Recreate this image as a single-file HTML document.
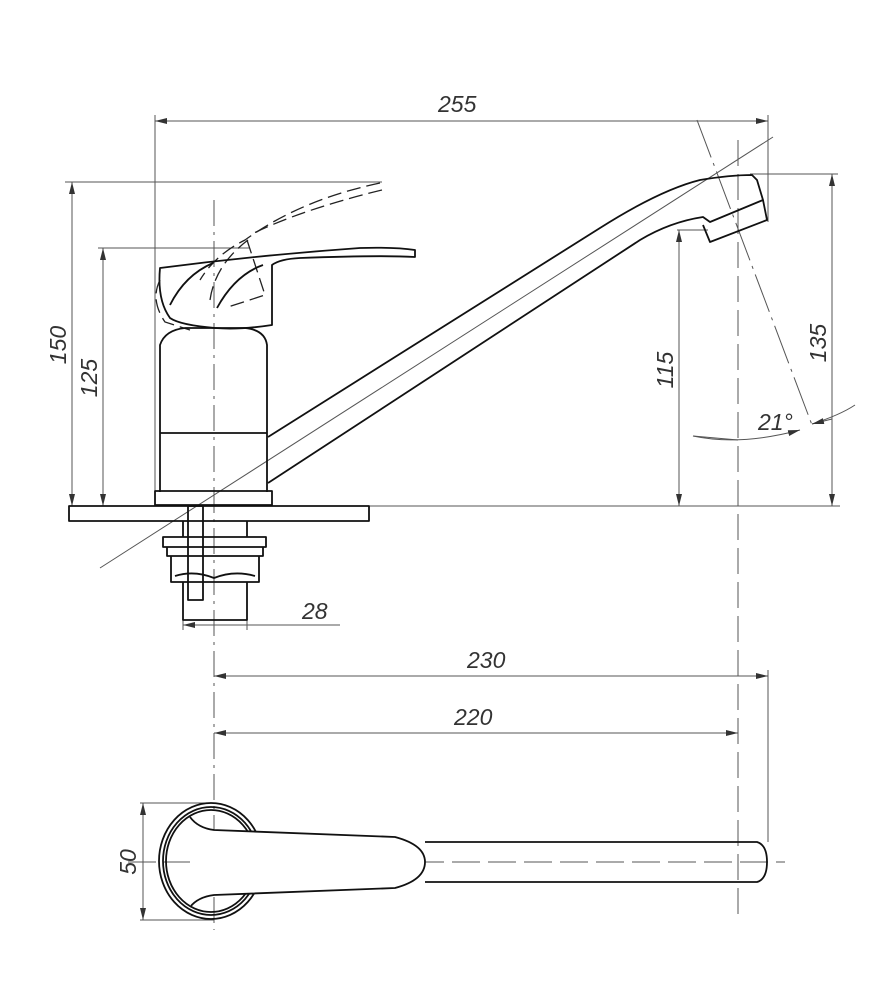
<!DOCTYPE html>
<html><head><meta charset="utf-8"><style>
html,body{margin:0;padding:0;background:#fff;}
svg{display:block;}
text{font-family:"Liberation Sans",sans-serif;font-style:italic;font-size:23px;fill:#333;}
</style></head><body>
<svg width="888" height="1000" viewBox="0 0 888 1000" xmlns="http://www.w3.org/2000/svg">
<defs>
<marker id="a" viewBox="0 0 12 6" refX="12" refY="3" markerWidth="12" markerHeight="6" orient="auto-start-reverse" markerUnits="userSpaceOnUse"><path d="M0,0L12,3L0,6z" fill="#333"/></marker>
</defs>
<g stroke="#555" stroke-width="1" fill="none">
<!-- extension lines -->
<line x1="155" y1="115" x2="155" y2="500"/>
<line x1="768" y1="115" x2="768" y2="222"/>
<line x1="65" y1="182" x2="382" y2="182"/>
<line x1="98" y1="248" x2="250" y2="248"/>
<line x1="369" y1="506" x2="840" y2="506"/>
<line x1="677" y1="230" x2="708" y2="230"/>
<line x1="750" y1="174" x2="838" y2="174"/>
<line x1="183" y1="600" x2="183" y2="630"/>
<line x1="247" y1="600" x2="247" y2="630"/>
<line x1="768" y1="670" x2="768" y2="842"/>
<line x1="140" y1="803" x2="214" y2="803"/>
<line x1="140" y1="920" x2="214" y2="920"/>
<!-- dimension lines -->
<line x1="155" y1="121" x2="768" y2="121" marker-start="url(#a)" marker-end="url(#a)"/>
<line x1="72" y1="182" x2="72" y2="506" marker-start="url(#a)" marker-end="url(#a)"/>
<line x1="103" y1="248" x2="103" y2="506" marker-start="url(#a)" marker-end="url(#a)"/>
<line x1="679" y1="230" x2="679" y2="506" marker-start="url(#a)" marker-end="url(#a)"/>
<line x1="832" y1="174" x2="832" y2="506" marker-start="url(#a)" marker-end="url(#a)"/>
<line x1="183" y1="625" x2="340" y2="625" marker-start="url(#a)"/>
<line x1="247" y1="625" x2="230" y2="625"/>
<line x1="214" y1="676" x2="768" y2="676" marker-start="url(#a)" marker-end="url(#a)"/>
<line x1="214" y1="733" x2="738" y2="733" marker-start="url(#a)" marker-end="url(#a)"/>
<line x1="143" y1="803" x2="143" y2="920" marker-start="url(#a)" marker-end="url(#a)"/>
<!-- angle -->
<path d="M693,436 Q740,446 800,430" marker-end="url(#a)"/>
<path d="M738,440 L693,436"/>
<path d="M855,405 Q840,415 812,424"/>
<line x1="832" y1="419" x2="812" y2="424" marker-end="url(#a)"/>
<!-- axis lines -->
<line x1="100" y1="568" x2="773" y2="137"/>
<line x1="697" y1="120" x2="812" y2="425" stroke-dasharray="40,6,3,6"/>
<line x1="214" y1="200" x2="214" y2="930" stroke-dasharray="26,6,3,6"/>
<line x1="738" y1="140" x2="738" y2="918" stroke-dasharray="26,8"/>
<line x1="128" y1="862" x2="785" y2="862" stroke-dasharray="28,8"/>
</g>
<!-- dashed handle -->
<g stroke="#222" stroke-width="1.3" fill="none" stroke-dasharray="14,6">
<path d="M380,183 Q300,200 245,240 Q215,255 200,280"/>
<path d="M382,190 Q300,210 250,235"/>
<path d="M160,280 Q150,300 165,322 L190,330"/>
<path d="M247,240 L265,295 L225,308"/>
<path d="M210,300 Q215,265 248,240"/>
</g>
<!-- main solid outline -->
<g stroke="#111" stroke-width="1.8" fill="none" stroke-linejoin="round">
<!-- handle -->
<path d="M160,268 Q260,255 360,248 Q395,247 415,250 L415,257 Q380,255 300,258 Q280,259 272,265 L272,325 Q240,330 215,328 Q180,325 170,318 Q157,300 160,268 Z"/>
<path d="M170,305 Q185,275 213,263"/>
<path d="M217,308 Q235,275 263,265"/>
<!-- body -->
<path d="M160,492 L160,345 Q165,330 185,328 L245,328 Q265,330 267,345 L267,492"/>
<line x1="160" y1="433" x2="267" y2="433"/>
<rect x="155" y="491" width="117" height="14"/>
<rect x="69" y="506" width="300" height="15"/>
<!-- under sink -->
<line x1="183" y1="521" x2="183" y2="537"/>
<line x1="247" y1="521" x2="247" y2="537"/>
<path d="M163,537 L266,537 L266,547 L163,547 Z M167,547 L263,547 L263,556 L167,556 Z M171,556 L259,556 L259,582 L171,582 Z M183,582 L247,582 L247,620 L183,620 Z"/>
<path d="M175,576 Q194,570 214,578 Q234,570 255,576"/>
<rect x="188" y="506" width="15" height="94"/>
<!-- spout -->
<path d="M268,437 L600,228 Q660,190 700,180 Q730,175 752,175 L757,180 L763,200 L710,222 L703,217 Q670,222 640,240 L268,483"/>
<path d="M703,225 L710,242 L767,220 L763,200"/>
<!-- bottom view -->
<ellipse cx="211" cy="861" rx="52" ry="58"/>
<ellipse cx="211" cy="861" rx="48" ry="54"/>
<ellipse cx="211" cy="861" rx="45" ry="51"/>
<path d="M190,817 Q198,828 214,830 L395,837 Q425,845 425,862 Q425,880 395,888 L214,895 Q198,897 190,907" fill="#fff"/>
<path d="M425,842 L757,842 Q767,845 767,862 Q767,879 757,882 L425,882"/>
</g>
<g>
<text x="438" y="112">255</text>
<text x="467" y="668">230</text>
<text x="454" y="725">220</text>
<text x="302" y="619">28</text>
<text x="758" y="430">21°</text>
<text transform="translate(66,345) rotate(-90)" text-anchor="middle">150</text>
<text transform="translate(97,378) rotate(-90)" text-anchor="middle">125</text>
<text transform="translate(673,370) rotate(-90)" text-anchor="middle">115</text>
<text transform="translate(826,343) rotate(-90)" text-anchor="middle">135</text>
<text transform="translate(136,862) rotate(-90)" text-anchor="middle">50</text>
</g>
</svg>
</body></html>
